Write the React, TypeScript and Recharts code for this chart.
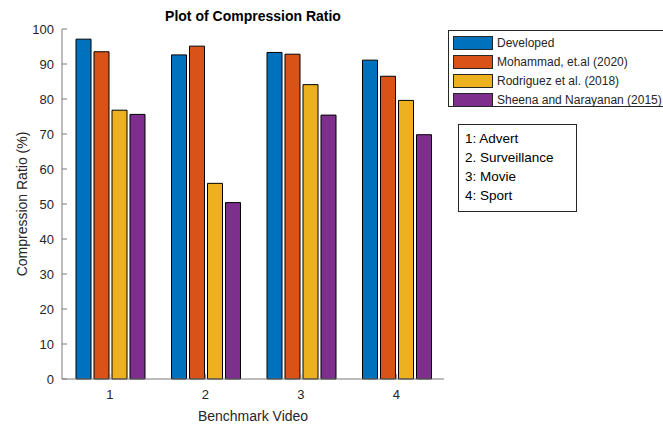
import { BarChart, Bar, XAxis, YAxis } from 'recharts'

const videos = ['1', '2', '3', '4']
const developed = [97.1, 92.6, 93.3, 91.1]
const mohammad = [93.5, 95.1, 92.8, 86.5]
const rodriguez = [76.8, 55.9, 84.1, 79.6]
const sheena = [75.6, 50.4, 75.4, 69.8]
const yTicks = [0, 10, 20, 30, 40, 50, 60, 70, 80, 90, 100]

const seriesKeys = ['developed', 'mohammad', 'rodriguez', 'sheena']
const seriesNames = [
  'Developed',
  'Mohammad, et.al (2020)',
  'Rodriguez et al. (2018)',
  'Sheena and Narayanan (2015)',
]
const seriesColors = ['#0072BD', '#D95319', '#EDB120', '#7E2F8E']
const videoNames = ['1: Advert', '2. Surveillance', '3: Movie', '4: Sport']

const data = videos.map((v, i) => ({
  video: v,
  developed: developed[i],
  mohammad: mohammad[i],
  rodriguez: rodriguez[i],
  sheena: sheena[i],
}))

const font = 'Arial, "Liberation Sans", sans-serif'
const axisColor = '#7a7a7a'
const textColor = '#262626'

const YLabel = ({ viewBox }: any) => {
  const cy = viewBox.y + viewBox.height / 2
  return (
    <text
      x={22}
      y={cy}
      transform={`rotate(-90, 22, ${cy})`}
      textAnchor="middle"
      dominantBaseline="central"
      fill={textColor}
      fontSize={14}
      fontFamily={font}
    >
      Compression Ratio (%)
    </text>
  )
}

export default function App() {
  return (
    <div
      style={{
        position: 'absolute',
        left: 0,
        top: 0,
        width: 663,
        height: 427,
        overflow: 'hidden',
        background: '#fff',
        fontFamily: font,
      }}
    >
      <div
        style={{
          position: 'absolute',
          left: 62,
          width: 382,
          top: 7,
          textAlign: 'center',
          fontWeight: 'bold',
          fontSize: 14,
          lineHeight: '18px',
          color: '#000',
        }}
      >
        Plot of Compression Ratio
      </div>

      <BarChart
        width={663}
        height={427}
        data={data}
        margin={{ top: 29, right: 219, bottom: 0, left: 0 }}
        barCategoryGap={14}
        barGap={3}
      >
        <XAxis
          dataKey="video"
          height={48}
          stroke={axisColor}
          tickSize={-5}
          tickMargin={16}
          tick={{ fill: textColor, fontSize: 13, fontFamily: font }}
          label={{
            value: 'Benchmark Video',
            position: 'insideBottom',
            offset: 6,
            fill: textColor,
            fontSize: 14,
            fontFamily: font,
          }}
        />
        <XAxis
          xAxisId="top"
          dataKey="video"
          orientation="top"
          height={0}
          stroke={axisColor}
          tickSize={-5}
          tickFormatter={() => ''}
        />
        <YAxis
          width={62}
          domain={[0, 100]}
          ticks={yTicks}
          interval={0}
          stroke={axisColor}
          tickSize={-5}
          tickMargin={13}
          tick={{ fill: textColor, fontSize: 13, fontFamily: font }}
          label={<YLabel />}
        />
        <YAxis
          yAxisId="right"
          orientation="right"
          width={0}
          domain={[0, 100]}
          ticks={yTicks}
          interval={0}
          stroke={axisColor}
          tickSize={-5}
          tickFormatter={() => ''}
        />
        {seriesKeys.map((k, i) => (
          <Bar
            key={k}
            dataKey={k}
            name={seriesNames[i]}
            fill={seriesColors[i]}
            stroke="#000"
            strokeWidth={1}
            isAnimationActive={false}
          />
        ))}
      </BarChart>

      {/* series legend */}
      <div
        style={{
          position: 'absolute',
          left: 448,
          top: 30,
          width: 230,
          height: 77,
          border: '1px solid #262626',
          boxSizing: 'border-box',
          paddingTop: 2,
        }}
      >
        {seriesNames.map((n, i) => (
          <div key={n} style={{ display: 'flex', alignItems: 'center', height: 19 }}>
            <div
              style={{
                marginLeft: 4,
                width: 40,
                height: 14,
                background: seriesColors[i],
                border: '1px solid #262626',
                boxSizing: 'border-box',
              }}
            />
            <span style={{ marginLeft: 4, fontSize: 12, color: textColor, whiteSpace: 'nowrap' }}>{n}</span>
          </div>
        ))}
      </div>

      {/* video names */}
      <div
        style={{
          position: 'absolute',
          left: 458,
          top: 124,
          width: 119,
          height: 88,
          border: '1px solid #262626',
          boxSizing: 'border-box',
          padding: '4px 0 0 6px',
          fontSize: 13.5,
          lineHeight: '19px',
          color: '#000',
        }}
      >
        {videoNames.map((n) => (
          <div key={n}>{n}</div>
        ))}
      </div>
    </div>
  )
}
